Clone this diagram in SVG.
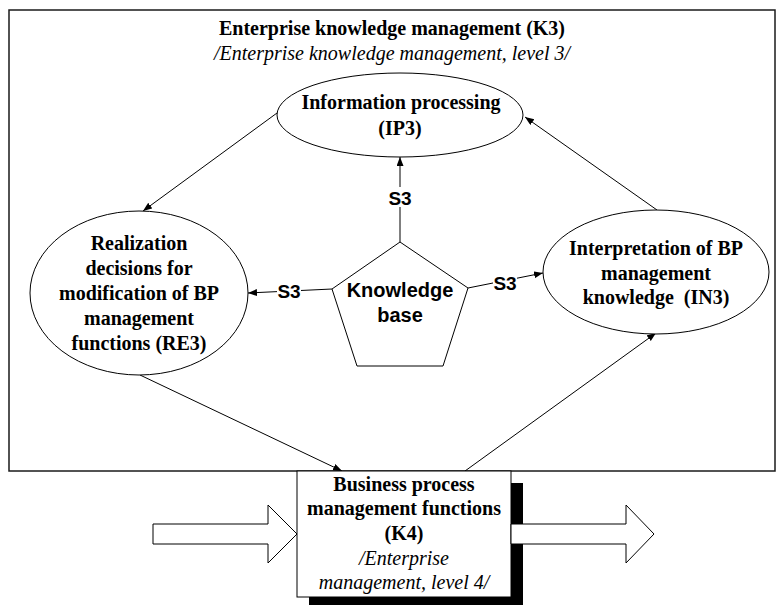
<svg xmlns="http://www.w3.org/2000/svg" width="777" height="605" viewBox="0 0 777 605">
<style>
.bt{font-family:"Liberation Serif","Times New Roman",serif;font-weight:bold;font-size:20px;text-anchor:middle;fill:#000}
.it{font-family:"Liberation Serif","Times New Roman",serif;font-style:italic;font-size:20px;text-anchor:middle;fill:#000}
.sa{font-family:"Liberation Sans",Arial,sans-serif;font-weight:bold;font-size:19px;text-anchor:middle;fill:#000}
.kb{font-family:"Liberation Sans",Arial,sans-serif;font-weight:bold;font-size:20px;text-anchor:middle;fill:#000}
.shape{fill:#fff;stroke:#000;stroke-width:1}
.conn{fill:none;stroke:#000;stroke-width:1}
</style>
<defs>
<marker id="ah" markerUnits="userSpaceOnUse" markerWidth="10" markerHeight="8" refX="9" refY="3.5" orient="auto">
<path d="M0,0 L9,3.5 L0,7 z" fill="#000"/>
</marker>
</defs>
<rect width="777" height="605" fill="#fff"/>
<g id="k3-frame">
<rect x="9" y="10" width="766" height="461" fill="none" stroke="#1a1a1a" stroke-width="1.5"/>
<text class="bt" x="392" y="35">Enterprise knowledge management (K3)</text>
<text class="it" x="392" y="60">/Enterprise knowledge management, level 3/</text>
</g>
<g id="connectors">
<line class="conn" x1="277" y1="113" x2="143" y2="211" marker-end="url(#ah)"/>
<line class="conn" x1="657" y1="210" x2="525" y2="117" marker-end="url(#ah)"/>
<line class="conn" x1="400" y1="242" x2="400" y2="157" marker-end="url(#ah)"/>
<line class="conn" x1="332" y1="289" x2="248" y2="293" marker-end="url(#ah)"/>
<line class="conn" x1="468" y1="288" x2="543" y2="273" marker-end="url(#ah)"/>
<line class="conn" x1="140" y1="375" x2="342" y2="471" marker-end="url(#ah)"/>
<line class="conn" x1="465" y1="471" x2="656" y2="333" marker-end="url(#ah)"/>
<rect x="388" y="187" width="24" height="20" fill="#fff"/>
<text class="sa" x="400" y="205">S3</text>
<rect x="277" y="281" width="24" height="19" fill="#fff"/>
<text class="sa" x="289" y="298">S3</text>
<rect x="493" y="273" width="24" height="19" fill="#fff"/>
<text class="sa" x="505" y="290">S3</text>
</g>
<g id="ip3">
<ellipse class="shape" cx="400" cy="115" rx="123" ry="42"/>
<text class="bt" x="401" y="109">Information processing</text>
<text class="bt" x="400" y="135">(IP3)</text>
</g>
<g id="knowledge-base">
<polygon class="shape" points="400,242 468,288 443,366 357,366 332,289"/>
<text class="kb" x="400" y="297">Knowledge</text>
<text class="kb" x="400" y="322">base</text>
</g>
<g id="re3">
<ellipse class="shape" cx="139" cy="293" rx="109" ry="82"/>
<text class="bt" x="139" y="250">Realization</text>
<text class="bt" x="139" y="275">decisions for</text>
<text class="bt" x="139" y="300">modification of BP</text>
<text class="bt" x="139" y="325">management</text>
<text class="bt" x="139" y="350">functions (RE3)</text>
</g>
<g id="in3">
<ellipse class="shape" cx="656" cy="272" rx="113" ry="62"/>
<text class="bt" x="656" y="255">Interpretation of BP</text>
<text class="bt" x="656" y="280">management</text>
<text class="bt" x="656" y="304" xml:space="preserve">knowledge  (IN3)</text>
</g>
<g id="k4">
<rect x="309" y="483" width="214" height="126" fill="#000"/>
<rect class="shape" x="297" y="471" width="214" height="126"/>
<text class="bt" x="404" y="491">Business process</text>
<text class="bt" x="404" y="515">management functions</text>
<text class="bt" x="404" y="540">(K4)</text>
<text class="it" x="404" y="565">/Enterprise</text>
<text class="it" x="404" y="589">management, level 4/</text>
</g>
<g id="input-arrow">
<polygon class="shape" points="153,524 268,524 268,505 297,534 268,563 268,544 153,544"/>
</g>
<g id="output-arrow">
<polygon class="shape" points="511,524 626,524 626,505 654,534 626,563 626,544 511,544"/>
</g>
</svg>
